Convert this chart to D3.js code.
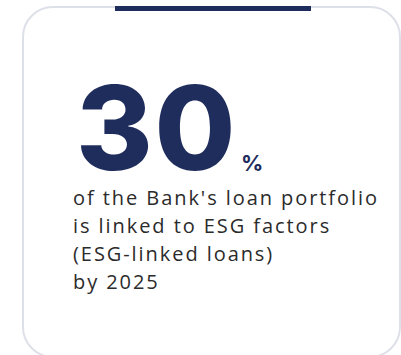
<!DOCTYPE html>
<html>
<head>
<meta charset="utf-8">
<title>ESG-linked loans</title>
<script src="https://cdn.jsdelivr.net/npm/d3@7"></script>
<style>
  html, body { margin: 0; padding: 0; background: #fff; }
  svg { display: block; }
</style>
</head>
<body>
<div id="card"></div>
<script>
// figures shown on the card
var headline = ["30"];
var unit = ["%"];
var lines = [
  "of the Bank's loan portfolio",
  "is linked to ESG factors",
  "(ESG-linked loans)",
  "by 2025"
];

var W = 401, H = 355;
var navy = "#1f2d5c";

var svg = d3.select("#card").append("svg")
  .attr("width", W)
  .attr("height", H);

// card outline
svg.append("rect")
  .attr("x", 23).attr("y", 7)
  .attr("width", 377).attr("height", 350)
  .attr("rx", 30)
  .attr("fill", "#fff")
  .attr("stroke", "#dde0e9")
  .attr("stroke-width", 2);

// top accent bar
svg.append("rect")
  .attr("x", 115).attr("y", 6)
  .attr("width", 196).attr("height", 5)
  .attr("fill", navy);

// big number
var big = svg.selectAll("text.big")
  .data(headline)
  .enter().append("text")
  .attr("class", "big")
  .attr("x", 76).attr("y", 170)
  .attr("fill", navy)
  .style("font-family", "Inter, 'Open Sans', sans-serif")
  .style("font-weight", 800)
  .style("font-size", "117px")
  .text(function(d) { return d; });

// squeeze the digits to the width seen in the card
var bw = big.node().getComputedTextLength();
big.style("letter-spacing", ((161 - bw) / 2) + "px");
bw = big.node().getComputedTextLength();

svg.selectAll("text.unit")
  .data(unit)
  .enter().append("text")
  .attr("class", "unit")
  .attr("x", 241).attr("y", 171)
  .attr("fill", navy)
  .style("font-family", "Inter, 'Open Sans', sans-serif")
  .style("font-weight", 700)
  .style("font-size", "22px")
  .text(function(d) { return d; });

// description
var desc = svg.selectAll("text.desc")
  .data(lines)
  .enter().append("text")
  .attr("class", "desc")
  .attr("x", 73)
  .attr("y", function(d, i) { return 205 + i * 28; })
  .attr("fill", "#2b2b2b")
  .style("font-family", "'Open Sans', sans-serif")
  .style("font-size", "20px")
  .text(function(d) { return d; });

var first = lines[0];
var lw = desc.node().getComputedTextLength();
desc.style("letter-spacing", ((304 - lw) / (first.length - 1)) + "px");
</script>
</body>
</html>
